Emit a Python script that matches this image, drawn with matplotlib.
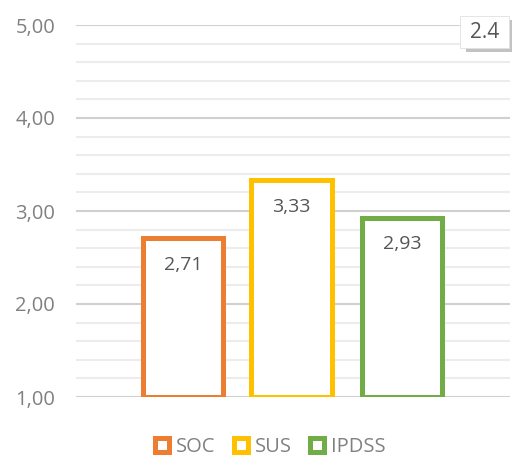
import matplotlib.pyplot as plt
from matplotlib.patches import Rectangle

series = ["SOC", "SUS", "IPDSS"]
values = [2.71, 3.33, 2.93]
colors = ["#ED7D31", "#FFC000", "#70AD47"]
yticks = [1, 2, 3, 4, 5]
ytick_labels = ["1,00", "2,00", "3,00", "4,00", "5,00"]

plt.rcParams['font.family'] = ['Open Sans', 'DejaVu Sans']

fig = plt.figure(figsize=(5.17, 4.59), dpi=100)
ax = fig.add_axes([76/517, 1-397/459, 434/517, 372/459])

x = [0, 0.99, 2.0]
bars = ax.bar(x, [v - 1 for v in values], bottom=1, width=0.735,
              facecolor="white", edgecolor=colors, linewidth=3.6, zorder=3)
for xi, v in zip(x, values):
    ax.text(xi, v - 0.29, f"{v:.2f}".replace(".", ","), ha="center", va="center",
            fontsize=14, color="#555555", zorder=4)

ax.set_ylim(1, 5)
ax.set_xlim(-0.98, 2.99)
ax.set_yticks(yticks)
ax.set_yticklabels(ytick_labels)
ax.set_yticks([1 + 0.2 * i for i in range(21) if i % 5], minor=True)
ax.grid(axis="y", which="major", color="#d0d0d0", linewidth=1.5, zorder=0)
ax.grid(axis="y", which="minor", color="#ececec", linewidth=1.5, zorder=0)
ax.set_xticks([])
for s in ax.spines.values():
    s.set_visible(False)
ax.tick_params(axis="y", which="both", length=0, pad=15, labelsize=14.5, labelcolor="#808080")

# legend
handles = [Rectangle((0, 0), 1, 1, facecolor="white", edgecolor=c, linewidth=3.6) for c in colors]
fig.legend(handles, series, loc="center", bbox_to_anchor=(0.523, 1 - 447/459), ncol=3,
           frameon=False, fontsize=14.5, labelcolor="#808080", handlelength=0.7,
           handleheight=0.7, handletextpad=0.35, columnspacing=0.9)

# version box top right with shadow
fig.patches.append(Rectangle((466/517, 1-52/459), 46/517, 32/459, transform=fig.transFigure,
                             facecolor="#9a9a9a", edgecolor="none", alpha=0.6, zorder=5))
fig.patches.append(Rectangle((460/517, 1-48/459), 49/517, 32/459, transform=fig.transFigure,
                             facecolor="white", edgecolor="#e0e0e0", linewidth=0.6, zorder=6))
fig.text(485/517, 1-32/459, "2.4", ha="center", va="center", fontsize=15,
         color="#555555", zorder=7)

fig.savefig("out.png", dpi=100)
